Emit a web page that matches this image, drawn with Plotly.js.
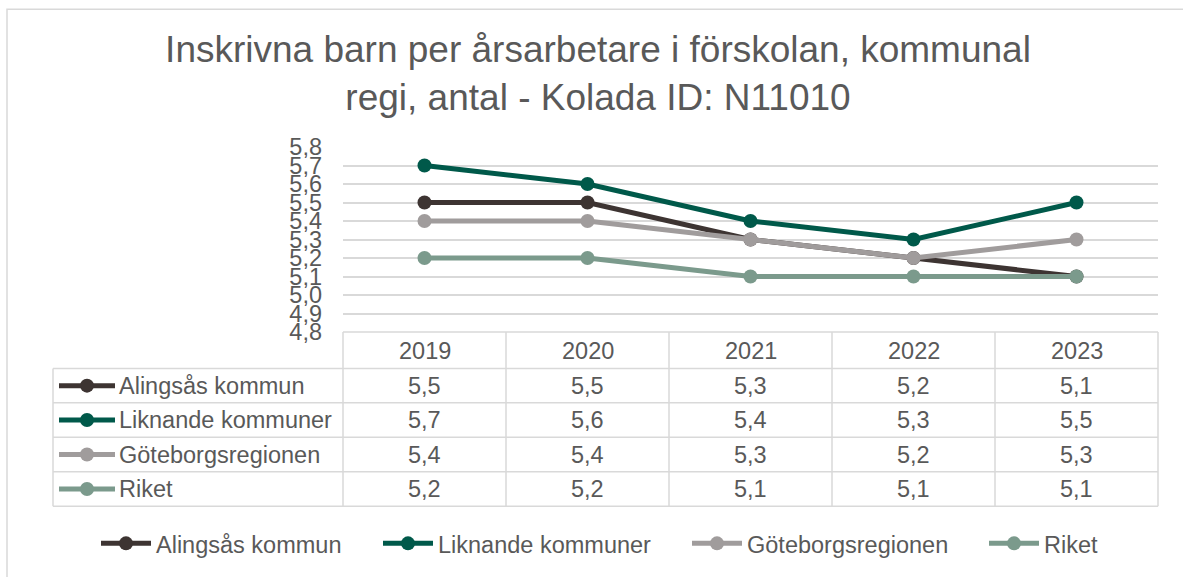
<!DOCTYPE html>
<html>
<head>
<meta charset="utf-8">
<script src="https://cdn.plot.ly/plotly-3.0.1.min.js"></script>
<style>html,body{margin:0;padding:0;background:#fff;}#chart{width:1183px;height:577px;}</style>
</head>
<body>
<div id="chart"></div>
<script>
// ---- data ----
const categories = ['2019', '2020', '2021', '2022', '2023'];
const seriesNames = ['Alingsås kommun', 'Liknande kommuner', 'Göteborgsregionen', 'Riket'];
const alingsas = [5.5, 5.5, 5.3, 5.2, 5.1];
const liknande = [5.7, 5.6, 5.4, 5.3, 5.5];
const goteborg = [5.4, 5.4, 5.3, 5.2, 5.3];
const riket = [5.2, 5.2, 5.1, 5.1, 5.1];
const seriesColors = ['#3D3432', '#00594A', '#A09C9C', '#7B9A8C'];
const titleLine1 = 'Inskrivna barn per årsarbetare i förskolan, kommunal';
const titleLine2 = 'regi, antal - Kolada ID: N11010';

const seriesValues = [alingsas, liknande, goteborg, riket];

// ---- layout geometry (pixels) ----
const W = 1183, H = 577;
const plotL = 343, plotR = 1158, plotT = 147, plotB = 335;
const tableLeft = 53;
const headerH = 37, rowH = 35;
const textColor = '#595959';
const gridColor = '#D9D9D9';
const fontFam = '"Liberation Sans", Arial, sans-serif';
const fs = 23.5;
const legendWidths = [217, 244, 232, 60];

const fx = px => (px - plotL) / (plotR - plotL);
const fy = py => (plotB - py) / (plotB - plotT);
const rowTop = i => (i === 0 ? plotB : plotB + headerH + (i - 1) * rowH);
const rowMid = i => (i === 0 ? plotB + headerH / 2 : rowTop(i) + rowH / 2);
const nCat = categories.length;
const colEdge = j => j / nCat; // paper x of column boundary
const colMid = j => (j + 0.5) / nCat;
const tableBottom = rowTop(seriesNames.length + 1);

const fmt = v => v.toFixed(1).replace('.', ',');

const traces = seriesValues.map((vals, k) => ({
  type: 'scatter',
  mode: 'lines+markers',
  x: categories,
  y: vals,
  name: seriesNames[k],
  line: {color: seriesColors[k], width: 5},
  marker: {color: seriesColors[k], size: 14},
  cliponaxis: false,
  legendwidth: legendWidths[k],
  hoverinfo: 'x+y+name'
}));

const shapes = [];
const annotations = [];
const lineStyle = {color: gridColor, width: 1.5};

// outer chart frame
shapes.push({type: 'rect', xref: 'paper', yref: 'paper', x0: fx(7), x1: fx(W + 10), y0: fy(7), y1: fy(H + 10), line: lineStyle, layer: 'below'});

// header row top + horizontal lines
shapes.push({type: 'line', xref: 'paper', yref: 'paper', x0: 0, x1: 1, y0: fy(rowTop(0)), y1: fy(rowTop(0)), line: lineStyle});
for (let i = 1; i <= seriesNames.length + 1; i++) {
  shapes.push({type: 'line', xref: 'paper', yref: 'paper', x0: fx(tableLeft), x1: 1, y0: fy(rowTop(i)), y1: fy(rowTop(i)), line: lineStyle});
}
// vertical lines
for (let j = 0; j <= nCat; j++) {
  shapes.push({type: 'line', xref: 'paper', yref: 'paper', x0: colEdge(j), x1: colEdge(j), y0: fy(rowTop(0)), y1: fy(tableBottom), line: lineStyle});
}
shapes.push({type: 'line', xref: 'paper', yref: 'paper', x0: fx(tableLeft), x1: fx(tableLeft), y0: fy(rowTop(1)), y1: fy(tableBottom), line: lineStyle});

// header labels
categories.forEach((c, j) => {
  annotations.push({xref: 'paper', yref: 'paper', x: colMid(j), y: fy(rowMid(0) + 1), text: c, showarrow: false, xanchor: 'center', yanchor: 'middle', font: {size: fs, color: textColor, family: fontFam}});
});

// rows
seriesNames.forEach((name, k) => {
  const i = k + 1;
  const ym = fy(rowMid(i));
  // legend key in table
  shapes.push({type: 'line', xref: 'paper', yref: 'paper', x0: fx(59), x1: fx(115), y0: ym, y1: ym, line: {color: seriesColors[k], width: 5}});
  shapes.push({type: 'circle', xref: 'paper', yref: 'paper', xsizemode: 'pixel', ysizemode: 'pixel', xanchor: fx(87), yanchor: ym, x0: -7, x1: 7, y0: -7, y1: 7, fillcolor: seriesColors[k], line: {width: 0}});
  annotations.push({xref: 'paper', yref: 'paper', x: fx(117), y: ym, text: name, showarrow: false, xanchor: 'left', yanchor: 'middle', font: {size: fs, color: textColor, family: fontFam}});
  seriesValues[k].forEach((v, j) => {
    annotations.push({xref: 'paper', yref: 'paper', x: colMid(j), y: ym, text: fmt(v), showarrow: false, xanchor: 'center', yanchor: 'middle', font: {size: fs, color: textColor, family: fontFam}});
  });
});

const layout = {
  width: W, height: H,
  margin: {l: plotL, r: W - plotR, t: plotT, b: H - plotB, pad: 0},
  paper_bgcolor: '#ffffff',
  plot_bgcolor: '#ffffff',
  separators: ', ',
  font: {family: fontFam, color: textColor, size: fs},
  title: {
    text: titleLine1 + '<br>' + titleLine2,
    font: {size: 37, color: textColor, family: fontFam},
    xref: 'container', x: 0.5055, xanchor: 'center',
    yref: 'container', y: 1 - 62 / H, yanchor: 'top'
  },
  xaxis: {
    type: 'category', range: [-0.5, nCat - 0.5],
    showticklabels: false, showgrid: false, zeroline: false, showline: false, ticks: ''
  },
  yaxis: {
    range: [4.8, 5.8001], dtick: 0.1, tick0: 4.8, tickformat: '.1f',
    showgrid: true, gridcolor: gridColor, gridwidth: 1.5,
    zeroline: false, showline: false, ticks: '',
    tickfont: {size: fs, color: textColor, family: fontFam},
    ticklabelstandoff: 20
  },
  showlegend: true,
  legend: {
    orientation: 'h', xref: 'paper', yref: 'paper',
    x: fx(96), xanchor: 'left', y: fy(550), yanchor: 'middle',
    itemwidth: 50,
    font: {size: fs, color: textColor, family: fontFam},
    bgcolor: 'rgba(0,0,0,0)'
  },
  shapes: shapes,
  annotations: annotations
};

Plotly.newPlot('chart', traces, layout, {displayModeBar: false, staticPlot: false});
</script>
</body>
</html>
